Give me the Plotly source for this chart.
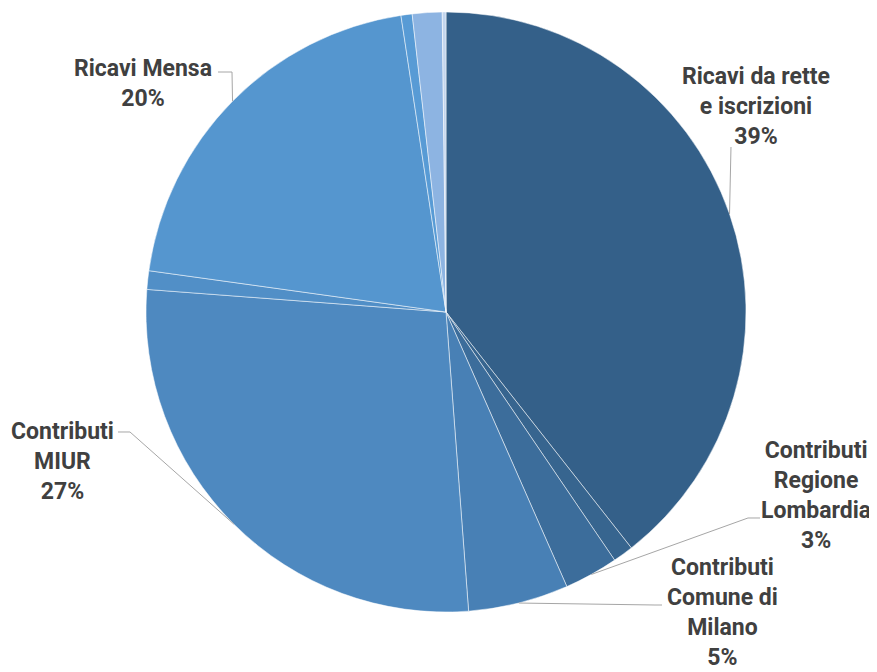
import math
import plotly.graph_objects as go

# ---- data ----
categories = [
    "Ricavi da rette e iscrizioni",
    "Altri ricavi",
    "Contributi Regione Lombardia",
    "Contributi Comune di Milano",
    "Contributi MIUR",
    "Altri contributi",
    "Ricavi Mensa",
    "Proventi vari",
    "Donazioni",
    "Interessi",
]
label_texts = [
    "Ricavi da rette<br>e iscrizioni",
    None,
    "Contributi<br>Regione<br>Lombardia",
    "Contributi<br>Comune di<br>Milano",
    "Contributi<br>MIUR",
    None,
    "Ricavi Mensa",
    None,
    None,
    None,
]
values = [39.4, 1.1, 2.9, 5.4, 27.4, 1.0, 20.4, 0.6, 1.6, 0.2]
colors = [
    "rgb(52,96,137)", "rgb(55,101,143)", "rgb(60,109,155)", "rgb(72,128,181)",
    "rgb(78,137,192)", "rgb(81,143,199)", "rgb(85,150,207)", "rgb(88,155,213)",
    "rgb(141,180,226)", "rgb(195,214,238)",
]

# ---- layout helpers (pixel geometry, as seen in the browser window) ----
WIN_W, WIN_H = 877, 672
OFF = 8  # page body margin
W, H = WIN_W - OFF, WIN_H - OFF
CX, CY, R = 446, 312, 300

def paper(x, y):
    return (x - OFF) / W, 1 - (y - OFF) / H

# label centres and leader-line bends (pixels)
label_centres = {0: (756, 106), 2: (816, 495), 3: (722, 612), 4: (62, 461), 6: (143, 84)}
leader_bends = {
    0: [(731, 147)],
    2: [(748, 518), (760, 518)],
    3: [(655, 605), (662, 605)],
    4: [(130, 432), (118, 432)],
    6: [(232, 72), (218, 72)],
}

total = sum(values)
FONT = "Roboto, Liberation Sans Narrow, sans-serif"

x0, y1 = paper(CX - R, CY - R)
x1, y0 = paper(CX + R, CY + R)

fig = go.Figure(go.Pie(
    labels=categories,
    values=values,
    sort=False,
    direction="clockwise",
    rotation=0,
    textinfo="none",
    hoverinfo="label+percent",
    marker=dict(colors=colors, line=dict(color="rgba(255,255,255,0.5)", width=1)),
    domain=dict(x=[x0, x1], y=[y0, y1]),
    showlegend=False,
))

annotations = []
shapes = []
cum = 0.0
for i, v in enumerate(values):
    mid = (cum + v / 2) / total * 2 * math.pi
    cum += v
    if label_texts[i] is None:
        continue
    pct = round(v / total * 100)
    lx, ly = label_centres[i]
    ax, ay = paper(lx, ly)
    annotations.append(dict(
        x=ax, y=ay, xref="paper", yref="paper", xanchor="center", yanchor="middle",
        text=f"<b>{label_texts[i]}<br>{pct}%</b>", showarrow=False, align="center",
        font=dict(family=FONT, size=23, color="#404040"),
    ))
    ex, ey = CX + R * math.sin(mid), CY - R * math.cos(mid)
    pts = [(ex, ey)] + leader_bends[i]
    path = ""
    for k, (px_, py_) in enumerate(pts):
        qx, qy = paper(px_, py_)
        path += ("M" if k == 0 else "L") + f"{qx:.5f},{qy:.5f} "
    shapes.append(dict(type="path", xref="paper", yref="paper", path=path.strip(),
                       line=dict(color="#A6A6A6", width=1)))

fig.update_layout(
    width=W, height=H,
    margin=dict(l=0, r=0, t=0, b=0),
    paper_bgcolor="white", plot_bgcolor="white",
    annotations=annotations, shapes=shapes,
)
fig.write_html("out.html")
